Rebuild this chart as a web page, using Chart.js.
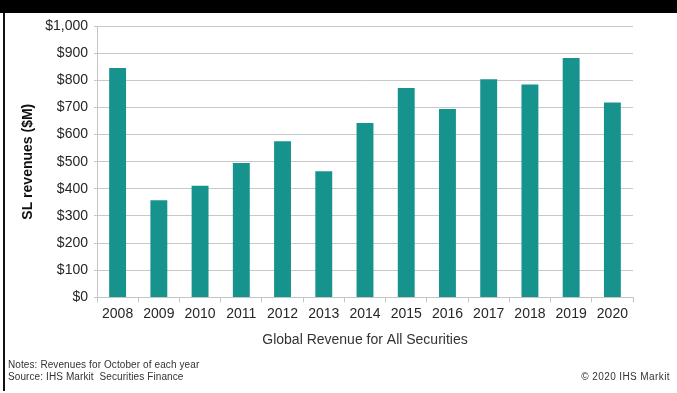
<!DOCTYPE html>
<html lang="en">
  <head>
    <meta charset="UTF-8" />
    <title>Global Revenue for All Securities</title>
    <script src="https://cdn.jsdelivr.net/npm/chart.js"></script>
    <style>
      body { margin: 0; background: #fff; font-family: "Liberation Sans", Arial, sans-serif; }
      .wrap { position: relative; width: 677px; height: 393px; overflow: hidden; }
      .header { position: absolute; left: 0; top: 0; width: 677px; height: 13px; background: #000; }
      .frame { position: absolute; left: 3px; top: 13px; width: 2px; height: 378px; background: #111; }
      canvas { position: absolute; left: 0; top: 0; }
      .note { position: absolute; font-size: 10px; line-height: 12px; color: #333; letter-spacing: 0.1px; white-space: nowrap; }
    </style>
  </head>
  <body>
    <div class="wrap">
      <canvas id="revChart" width="677" height="393"></canvas>
      <div class="header"></div>
      <div class="frame"></div>
      <div class="note" style="left: 8px; top: 359px">Notes: Revenues for October of each year</div>
      <div class="note" style="left: 8px; top: 371px">Source: IHS Markit&nbsp; Securities Finance</div>
      <div class="note" style="right: 7px; top: 371px; letter-spacing: 0.4px">© 2020 IHS Markit</div>
    </div>
    <script>
      // SL revenues ($M), October of each year
      const years = ["2008", "2009", "2010", "2011", "2012", "2013", "2014",
        "2015", "2016", "2017", "2018", "2019", "2020"];
      const revenues = [845, 358, 411, 495, 575, 465, 643, 772, 694, 804, 784, 882, 718];
      const yMin = 0;
      const yMax = 1000;
      const yStep = 100;

      const ctx = document.getElementById("revChart").getContext("2d");
      const chart = new Chart(ctx, {
        type: "bar",
        data: {
          labels: years,
          datasets: [
            {
              label: "SL revenues ($M)",
              data: revenues,
              backgroundColor: "#17938e",
              borderWidth: 0,
              categoryPercentage: 1,
              barPercentage: 0.41,
            },
          ],
        },
        options: {
          responsive: false,
          animation: false,
          layout: { padding: { top: 26, right: 44, bottom: 44, left: 0 } },
          plugins: { legend: { display: false }, tooltip: { enabled: false } },
          scales: {
            x: {
              grid: {
                drawOnChartArea: false,
                drawTicks: true,
                tickLength: 5,
                color: "#c4c4c4",
              },
              border: { color: "#c4c4c4" },
              ticks: {
                padding: 3,
                color: "#262626",
                font: { family: "Liberation Sans", size: 14 },
              },
              title: {
                display: true,
                text: "Global Revenue for All Securities",
                color: "#333",
                font: { family: "Liberation Sans", size: 14 },
                padding: { top: 7, bottom: 0 },
              },
            },
            y: {
              min: yMin,
              max: yMax,
              afterFit: (scale) => { scale.width = 97; },
              grid: { color: "#c8c8c8", tickLength: 3 },
              border: { color: "#c4c4c4" },
              ticks: {
                stepSize: yStep,
                padding: 6,
                color: "#262626",
                font: { family: "Liberation Sans", size: 14 },
                callback: (v) => "$" + v.toLocaleString("en-US"),
              },
              title: {
                display: true,
                text: "SL revenues ($M)",
                color: "#111",
                font: { family: "Liberation Sans", size: 14, weight: "bold" },
                padding: { top: 20, bottom: 0 },
              },
            },
          },
        },
      });
    </script>
  </body>
</html>
